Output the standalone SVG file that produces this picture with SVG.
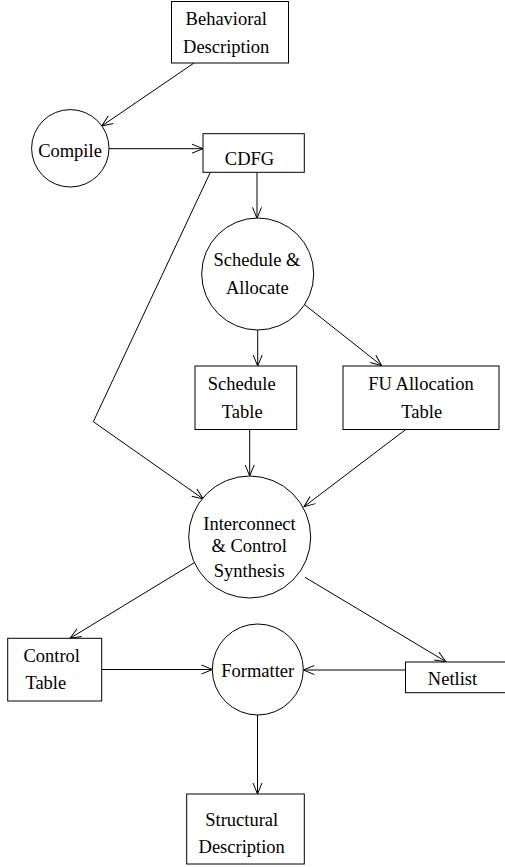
<svg xmlns="http://www.w3.org/2000/svg" width="505" height="867" viewBox="0 0 505 867">
<style>
.n{fill:#fff;stroke:#000;stroke-width:1}
.t{font-family:"Liberation Serif","Times New Roman",serif;font-size:18.5px;fill:#000;text-anchor:middle}
.c{fill:none;stroke:#000;stroke-width:1}
</style>
<defs>
<marker id="a" markerUnits="userSpaceOnUse" markerWidth="14" markerHeight="12" refX="11" refY="5" orient="auto" overflow="visible">
<path d="M0,0.5 L11,5 L0,9.5" fill="none" stroke="#000" stroke-width="1"/>
</marker>
</defs>
<rect width="505" height="867" fill="#fff"/>
<g id="connectors">
<line class="c" x1="194" y1="63" x2="101.7" y2="126" marker-end="url(#a)"/>
<line class="c" x1="109" y1="148.7" x2="203" y2="148.7" marker-end="url(#a)"/>
<line class="c" x1="257" y1="172.3" x2="257" y2="218.3" marker-end="url(#a)"/>
<polyline class="c" points="210.3,172.3 93.3,421.7 203.3,499" marker-end="url(#a)"/>
<line class="c" x1="257.7" y1="328" x2="257.7" y2="366" marker-end="url(#a)"/>
<line class="c" x1="305" y1="305" x2="381.7" y2="365.7" marker-end="url(#a)"/>
<line class="c" x1="249.7" y1="430" x2="249.7" y2="476" marker-end="url(#a)"/>
<line class="c" x1="406" y1="429.3" x2="304" y2="506.7" marker-end="url(#a)"/>
<line class="c" x1="194.3" y1="562.7" x2="70" y2="638.3" marker-end="url(#a)"/>
<line class="c" x1="305" y1="577.3" x2="446" y2="661.7" marker-end="url(#a)"/>
<line class="c" x1="101.7" y1="669.5" x2="212.5" y2="669.5" marker-end="url(#a)"/>
<line class="c" x1="405.5" y1="670" x2="303.3" y2="670" marker-end="url(#a)"/>
<line class="c" x1="257.5" y1="715" x2="257.5" y2="794" marker-end="url(#a)"/>
</g>
<g id="behavioral">
<rect class="n" x="171.5" y="1.5" width="117" height="61.5"/>
<text class="t" x="226.2" y="25">Behavioral</text>
<text class="t" x="226.2" y="53">Description</text>
</g>
<g id="compile">
<circle class="n" cx="70.3" cy="148.3" r="38.7"/>
<text class="t" x="70" y="156.5">Compile</text>
</g>
<g id="cdfg">
<rect class="n" x="203" y="133.7" width="101.3" height="38.6"/>
<text class="t" x="249.5" y="165">CDFG</text>
</g>
<g id="schedule-allocate">
<circle class="n" cx="257.7" cy="274" r="56"/>
<text class="t" x="257" y="265.7">Schedule &amp;</text>
<text class="t" x="257.3" y="294.3">Allocate</text>
</g>
<g id="schedule-table">
<rect class="n" x="195" y="366" width="101.7" height="63.5"/>
<text class="t" x="241.7" y="390">Schedule</text>
<text class="t" x="242.2" y="418">Table</text>
</g>
<g id="fu-allocation-table">
<rect class="n" x="343" y="366" width="156" height="63.5"/>
<text class="t" x="421" y="390">FU Allocation</text>
<text class="t" x="421.7" y="418">Table</text>
</g>
<g id="interconnect">
<circle class="n" cx="249.7" cy="537" r="61"/>
<text class="t" x="249.5" y="530">Interconnect</text>
<text class="t" x="249.2" y="552.3">&amp; Control</text>
<text class="t" x="249.2" y="576.7">Synthesis</text>
</g>
<g id="control-table">
<rect class="n" x="7.7" y="638.3" width="94" height="62.7"/>
<text class="t" x="51.7" y="661.7">Control</text>
<text class="t" x="45.8" y="689">Table</text>
</g>
<g id="formatter">
<circle class="n" cx="257.8" cy="669.5" r="45.5"/>
<text class="t" x="257.7" y="677">Formatter</text>
</g>
<g id="netlist">
<rect class="n" x="405.5" y="662" width="101" height="30.7"/>
<text class="t" x="452.5" y="685">Netlist</text>
</g>
<g id="structural">
<rect class="n" x="186.7" y="794" width="117.6" height="70"/>
<text class="t" x="241.7" y="825.7">Structural</text>
<text class="t" x="241.7" y="852.7">Description</text>
</g>
</svg>
